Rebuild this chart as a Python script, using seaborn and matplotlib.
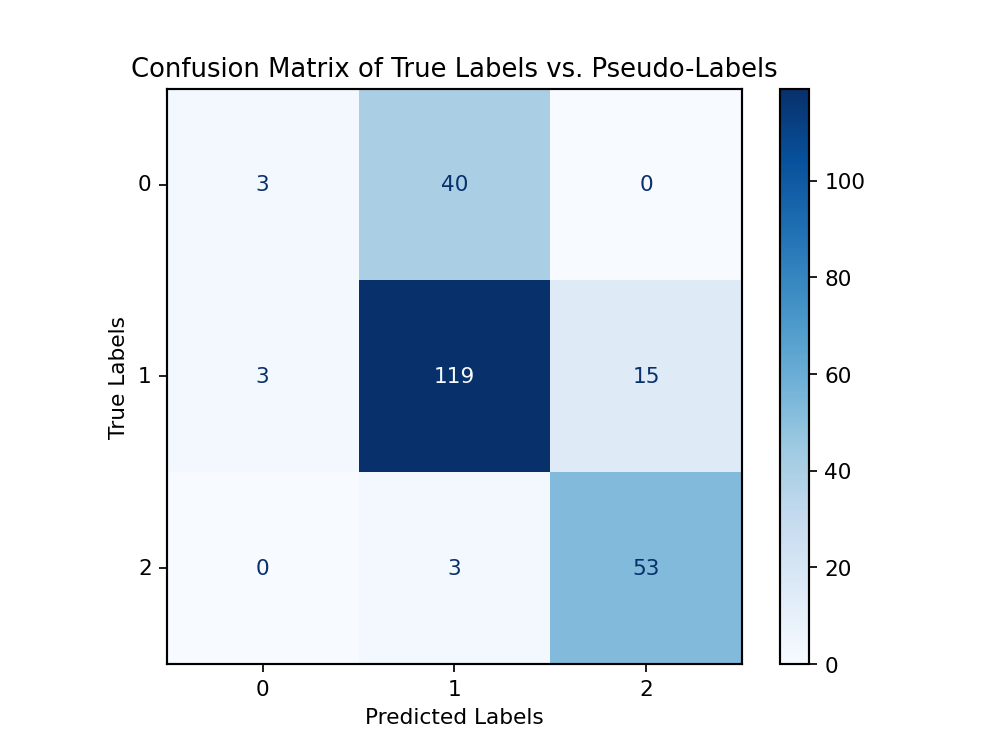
import numpy as np
import matplotlib
matplotlib.use("Agg")
import matplotlib.pyplot as plt
import seaborn as sns

labels = ["0", "1", "2"]
counts = np.array([
    [3, 40, 0],
    [3, 119, 15],
    [0, 3, 53],
])

fig, ax = plt.subplots(figsize=(6.4, 4.8), dpi=155.6)
cmap = plt.get_cmap("Blues")
sns.heatmap(counts, cmap=cmap, square=True, annot=False, cbar=True,
            xticklabels=labels, yticklabels=labels, ax=ax,
            cbar_kws={"fraction": 0.15, "pad": 0.05})

# annotate like sklearn: light text on dark cells, dark text on light cells
thresh = (counts.max() + counts.min()) / 2.0
for i in range(counts.shape[0]):
    for j in range(counts.shape[1]):
        color = cmap(0.0) if counts[i, j] > thresh else cmap(1.0)
        ax.text(j + 0.5, i + 0.5, str(counts[i, j]), ha="center", va="center",
                color=color, fontsize=10)

for s in ax.spines.values():
    s.set_visible(True)
    s.set_linewidth(1.0)
ax.tick_params(length=3.5, width=0.8)
ax.set_yticklabels(labels, rotation=0)
cbar = ax.collections[0].colorbar
cbar.outline.set_visible(True)
cbar.outline.set_linewidth(1.0)
cbar.ax.tick_params(length=3.5, width=0.8)

ax.set_title("Confusion Matrix of True Labels vs. Pseudo-Labels", fontsize=12)
ax.set_xlabel("Predicted Labels")
ax.set_ylabel("True Labels")
fig.savefig("out.png", dpi=155.6)
